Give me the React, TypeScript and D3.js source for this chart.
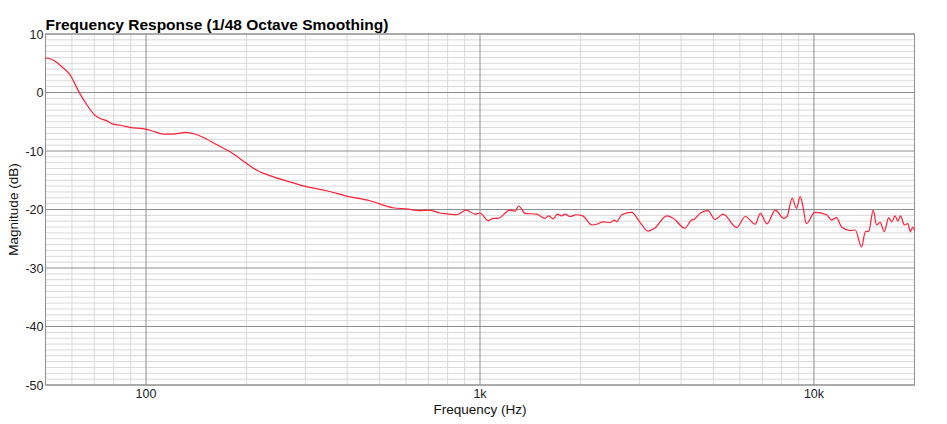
import * as d3 from "d3";

const W = 947, H = 424;
const M = { left: 45.5, right: 32.5, top: 34, bottom: 39 };

// curve (Hz, dB)
const freqs = [
  50, 50.7, 53.3, 56, 59.1, 63.3, 66.5, 70.2, 72.6, 76.1, 79.6, 84, 89.4, 100.3, 106, 112.4,
  120.5, 132, 140, 148, 162.5, 178, 199.8, 214, 234.6, 263, 302, 347, 398.6, 468, 549, 602,
  658, 707, 757, 811, 850, 910, 967, 1000, 1059, 1096, 1134, 1228, 1273, 1306, 1364, 1478,
  1564, 1608, 1656, 1702, 1755, 1796, 1858, 1944, 2030, 2165, 2240, 2343, 2451, 2524, 2564,
  2656, 2847, 3006, 3184, 3334, 3621, 3789, 4104, 4300, 4372, 4595, 4816, 5050, 5347, 5869,
  6226, 6673, 6909, 7230, 7659, 8113, 8303, 8601, 8872, 9090, 9271, 9486, 10060, 10906,
  11290, 11680, 12100, 12840, 13290, 13880, 14250, 14590, 15050, 15400, 15780, 16240, 16740,
  17090, 17490, 17830, 18150, 18670, 19100, 19440, 19760, 20000,
];
const mags = [
  5.9, 5.85, 5.4, 4.4, 3.1, -0.15, -2.1, -3.85, -4.4, -4.8, -5.4, -5.6, -5.95, -6.3, -6.7, -7.1,
  -7.1, -6.8, -7.1, -7.65, -8.9, -10.1, -12.1, -13.25, -14.2, -15.1, -16.1, -16.8, -17.7, -18.5, -19.7, -19.9,
  -20.2, -20.1, -20.6, -20.8, -20.9, -20.1, -20.8, -20.6, -21.9, -21.5, -21.5, -20.1, -20.3, -19.4, -20.65, -20.8,
  -21.5, -21.1, -21.6, -20.8, -21.1, -20.8, -21.2, -20.9, -21.1, -22.65, -22.5, -22.1, -22.25, -21.8, -22.1,
  -20.9, -20.5, -22.1, -23.7, -23.2, -21.1, -21.5, -23.2, -21.8, -21.7, -20.5, -20.2, -21.7, -20.8, -23.1,
  -21.2, -22.5, -20.65, -22.45, -20.1, -21.5, -21.2, -18.1, -19.8, -17.8, -19.5, -22.4, -20.5, -20.9,
  -21.8, -21.4, -23, -23.6, -23.5, -26.4, -23.8, -23.7, -20.1, -22.65, -22.2, -23.8, -21.4,
  -22.1, -21.1, -22, -21.1, -22.65, -22.4, -23.8, -23, -23.6,
];

const xDomain = [50, 20000];
const yDomain = [-50, 10];
const xMajor = [100, 1000, 10000];
const xMajorLabels = ["100", "1k", "10k"];
const xMinor = [60, 70, 80, 90, 200, 300, 400, 500, 600, 700, 800, 900,
  2000, 3000, 4000, 5000, 6000, 7000, 8000, 9000];
const yMajor = [10, 0, -10, -20, -30, -40, -50];

const FONT = "'Liberation Sans', Arial, Helvetica, sans-serif";

export default function App() {
  const x = d3.scaleLog(xDomain, [M.left, W - M.right]);
  const y = d3.scaleLinear(yDomain, [H - M.bottom, M.top]);
  const yMinor = d3.range(-50, 11, 1).filter((v) => v % 10 !== 0);

  const data = freqs.map((f, i) => [f, mags[i]] as [number, number]);
  const line = d3.line<[number, number]>()
    .x((d) => x(d[0]))
    .y((d) => y(d[1]))
    .curve(d3.curveMonotoneX);

  const x0 = M.left, x1 = W - M.right, y0 = M.top, y1 = H - M.bottom;

  return (
    <div style={{ position: "fixed", left: 0, top: 0 }}>
      <svg width={W} height={H} style={{ display: "block", background: "#fff" }}>
        {/* minor grid */}
        {yMinor.map((v) => (
          <line key={`ym${v}`} x1={x0} x2={x1} y1={y(v)} y2={y(v)} stroke="#d9d9d9" strokeWidth={1} />
        ))}
        {xMinor.map((v) => (
          <line key={`xm${v}`} x1={x(v)} x2={x(v)} y1={y0} y2={y1} stroke="#d9d9d9" strokeWidth={1} />
        ))}

        {/* major grid */}
        {yMajor.map((v) => (
          <line key={`yM${v}`} x1={x0} x2={x1} y1={y(v)} y2={y(v)} stroke="#8e8e8e" strokeWidth={1} />
        ))}
        {xMajor.map((v) => (
          <line key={`xM${v}`} x1={x(v)} x2={x(v)} y1={y0} y2={y1} stroke="#8e8e8e" strokeWidth={1} />
        ))}
        <rect x={x0} y={y0} width={x1 - x0} height={y1 - y0} fill="none" stroke="#8e8e8e" strokeWidth={1} />

        {/* curve */}
        <path d={line(data) ?? ""} fill="none" stroke="#ff2038" strokeWidth={1.2} />

        {/* y tick labels */}
        {yMajor.map((v) => (
          <text key={`yl${v}`} x={x0 - 2} y={y(v) + 4.5} textAnchor="end"
            fontSize={12.5} fill="#222" fontFamily={FONT}>
            {v}
          </text>
        ))}

        {/* x tick labels */}
        {xMajor.map((v, i) => (
          <text key={`xl${v}`} x={x(v)} y={y1 + 13} textAnchor="middle"
            fontSize={12.5} fill="#222" fontFamily={FONT}>
            {xMajorLabels[i]}
          </text>
        ))}

        {/* axis titles */}
        <text x={(x0 + x1) / 2} y={H - 10} textAnchor="middle"
          fontSize={13.5} fill="#111" fontFamily={FONT}>
          Frequency (Hz)
        </text>
        <text transform={`translate(18, ${(y0 + y1) / 2}) rotate(-90)`} textAnchor="middle"
          fontSize={13.5} fill="#111" fontFamily={FONT}>
          Magnitude (dB)
        </text>

        {/* title */}
        <text x={x0} y={30} fontSize={15.5} fontWeight="bold" fill="#000" fontFamily={FONT}>
          Frequency Response (1/48 Octave Smoothing)
        </text>
      </svg>
    </div>
  );
}
